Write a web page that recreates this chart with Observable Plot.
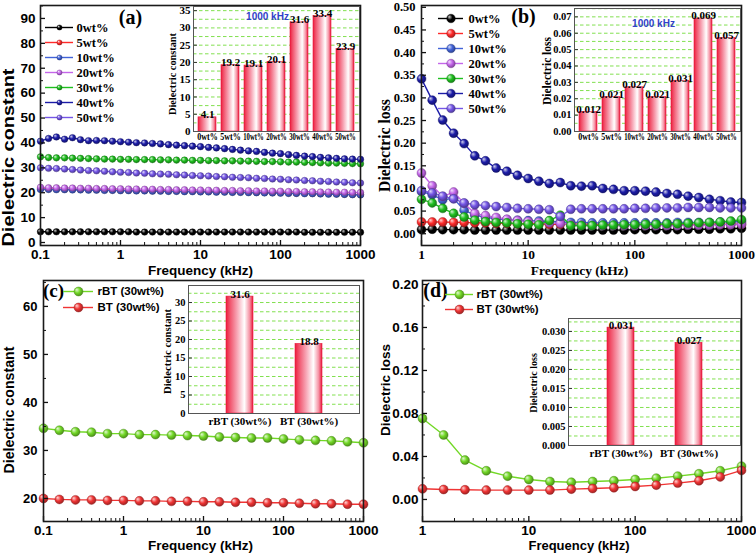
<!DOCTYPE html>
<html>
<head>
<meta charset="utf-8">
<script src="https://cdn.jsdelivr.net/npm/d3@7"></script>
<script src="https://cdn.jsdelivr.net/npm/@observablehq/plot@0.6"></script>
<style>
html,body{margin:0;padding:0;background:#fff;}
#fig{position:relative;width:756px;height:555px;overflow:hidden;background:#fff;}
#fig svg{position:absolute;overflow:visible;}
</style>
</head>
<body>
<div id="fig"></div>
<script>
// ---------------- data ----------------
const seriesNames = ["0wt%","5wt%","10wt%","20wt%","30wt%","40wt%","50wt%"];
const seriesColors = ["#000000","#ff2a2a","#4263d8","#c466ea","#1fbf1f","#1c1ca8","#7456e6"];

const freqA = [0.1,0.126,0.158,0.2,0.251,0.316,0.398,0.501,0.631,0.794,1,1.26,1.58,2,2.51,3.16,3.98,5.01,6.31,7.94,10,12.6,15.8,20,25.1,31.6,39.8,50.1,63.1,79.4,100,126,158,200,251,316,398,501,631,794,1000];
const epsA0  = [4.3,4.3,4.3,4.3,4.3,4.3,4.3,4.3,4.3,4.3,4.3,4.3,4.2,4.2,4.2,4.2,4.2,4.2,4.2,4.2,4.2,4.2,4.2,4.2,4.2,4.2,4.2,4.2,4.2,4.2,4.2,4.2,4.2,4.1,4.1,4.1,4.1,4.1,4.1,4.1,4.1];
const epsA5  = [21.6,21.5,21.5,21.4,21.4,21.3,21.3,21.2,21.2,21.1,21.0,21.0,20.9,20.9,20.8,20.8,20.7,20.7,20.6,20.6,20.5,20.5,20.4,20.4,20.3,20.3,20.2,20.1,20.1,20.0,20.0,19.9,19.8,19.8,19.7,19.6,19.6,19.5,19.4,19.3,19.2];
const epsA10 = [21.3,21.3,21.2,21.2,21.1,21.1,21.0,21.0,20.9,20.9,20.8,20.8,20.7,20.7,20.6,20.6,20.5,20.5,20.4,20.4,20.3,20.3,20.2,20.2,20.1,20.1,20.0,20.0,19.9,19.9,19.8,19.7,19.7,19.6,19.6,19.5,19.4,19.4,19.3,19.2,19.1];
const epsA20 = [22.2,22.0,22.0,21.9,21.9,21.8,21.8,21.7,21.7,21.6,21.6,21.5,21.5,21.4,21.4,21.3,21.3,21.2,21.2,21.1,21.1,21.0,21.0,20.9,20.9,20.8,20.8,20.7,20.7,20.6,20.6,20.5,20.5,20.4,20.4,20.3,20.3,20.2,20.2,20.1,20.1];
const epsA30 = [34.4,34.1,34.0,34.0,33.9,33.8,33.7,33.6,33.5,33.5,33.4,33.4,33.3,33.3,33.3,33.2,33.2,33.1,33.1,33.0,33.0,32.9,32.9,32.8,32.8,32.7,32.7,32.6,32.5,32.5,32.4,32.3,32.3,32.2,32.1,32.0,31.9,31.9,31.8,31.7,31.6];
const epsA40 = [40.7,41.8,42.4,41.5,42.1,41.3,40.9,41.0,40.9,40.7,40.5,40.3,40.1,40.0,39.8,39.6,39.3,39.1,38.9,38.7,38.5,38.2,38.0,37.7,37.4,37.1,36.8,36.6,36.2,35.9,35.7,35.3,35.0,34.7,34.5,34.2,34.0,33.8,33.6,33.5,33.4];
const epsA50 = [30.0,29.8,29.7,29.5,29.3,29.1,28.9,28.8,28.6,28.4,28.2,28.1,27.9,27.8,27.6,27.5,27.4,27.2,27.1,26.9,26.8,26.7,26.5,26.4,26.2,26.1,26.0,25.8,25.7,25.5,25.4,25.2,25.1,24.9,24.8,24.6,24.5,24.3,24.2,24.0,23.9];

const freqB = [1,1.26,1.58,2,2.51,3.16,3.98,5.01,6.31,7.94,10,12.6,15.8,20,25.1,31.6,39.8,50.1,63.1,79.4,100,126,158,200,251,316,398,501,631,794,1000];
const lossB0  = [0.009,0.010,0.009,0.009,0.009,0.008,0.008,0.008,0.008,0.008,0.008,0.008,0.008,0.008,0.008,0.008,0.008,0.008,0.008,0.008,0.009,0.009,0.009,0.009,0.009,0.010,0.010,0.010,0.011,0.011,0.012];
const lossB5  = [0.026,0.026,0.026,0.025,0.025,0.024,0.024,0.023,0.023,0.022,0.022,0.022,0.021,0.021,0.021,0.021,0.021,0.021,0.020,0.020,0.020,0.020,0.020,0.020,0.020,0.020,0.020,0.021,0.021,0.021,0.021];
const lossB10 = [0.093,0.086,0.075,0.078,0.052,0.041,0.036,0.033,0.031,0.030,0.029,0.028,0.027,0.026,0.025,0.025,0.024,0.024,0.024,0.024,0.024,0.024,0.024,0.024,0.025,0.025,0.025,0.025,0.026,0.026,0.027];
const lossB20 = [0.134,0.106,0.082,0.092,0.067,0.045,0.040,0.036,0.032,0.029,0.027,0.025,0.024,0.023,0.020,0.019,0.018,0.018,0.018,0.018,0.018,0.018,0.018,0.018,0.018,0.019,0.019,0.019,0.020,0.020,0.021];
const lossB30 = [0.076,0.068,0.056,0.045,0.037,0.030,0.027,0.025,0.024,0.022,0.021,0.020,0.029,0.041,0.018,0.018,0.018,0.019,0.019,0.020,0.020,0.021,0.021,0.022,0.022,0.023,0.024,0.025,0.026,0.028,0.031];
const lossB40 = [0.342,0.295,0.251,0.222,0.199,0.172,0.161,0.145,0.138,0.129,0.122,0.116,0.111,0.113,0.106,0.105,0.106,0.100,0.098,0.095,0.095,0.094,0.092,0.089,0.087,0.083,0.080,0.076,0.073,0.070,0.069];
const lossB50 = [0.095,0.090,0.083,0.077,0.068,0.064,0.062,0.060,0.058,0.056,0.055,0.054,0.053,0.038,0.054,0.055,0.055,0.055,0.055,0.055,0.056,0.056,0.057,0.057,0.057,0.058,0.058,0.058,0.057,0.057,0.057];

const pairNames = ["rBT (30wt%)","BT (30wt%)"];
const pairColors = ["#72d826","#f03434"];
const freqC = [0.1,0.158,0.251,0.398,0.631,1,1.58,2.51,3.98,6.31,10,15.8,25.1,39.8,63.1,100,158,251,398,631,1000];
const epsC_rBT = [34.6,34.2,33.9,33.8,33.5,33.5,33.3,33.3,33.2,33.1,33.0,32.8,32.7,32.6,32.6,32.4,32.2,32.1,32.0,31.8,31.6];
const epsC_BT  = [20.0,19.8,19.7,19.7,19.6,19.6,19.5,19.5,19.4,19.4,19.3,19.3,19.2,19.2,19.1,19.1,19.0,18.9,18.9,18.8,18.8];

const freqD = [1,1.58,2.51,3.98,6.31,10,15.8,25.1,39.8,63.1,100,158,251,398,631,1000];
const lossD_rBT = [0.0753,0.060,0.0366,0.0267,0.0217,0.0186,0.0167,0.016,0.0167,0.0174,0.0186,0.0198,0.0217,0.0239,0.0267,0.031];
const lossD_BT  = [0.0099,0.0093,0.009,0.0087,0.0087,0.0087,0.0087,0.0096,0.0102,0.0109,0.0121,0.0133,0.0152,0.0174,0.021,0.027];

// inset bar values at 1000 kHz
const insetA = [4.1,19.2,19.1,20.1,31.6,33.4,23.9];
const insetB = [0.012,0.021,0.027,0.021,0.031,0.069,0.057];
const insetC = [31.6,18.8];
const insetD = [0.031,0.027];

// tick labels
const xTicksLow = [0.1,1,10,100,1000];
const xTicksHigh = [1,10,100,1000];
const yTicksA = [0,10,20,30,40,50,60,70,80,90];
const yTicksB = [0,0.05,0.10,0.15,0.20,0.25,0.30,0.35,0.40,0.45,0.50];
const yTicksC = [20,30,40,50,60];
const yTicksD = [0,0.04,0.08,0.12,0.16,0.20];
const yTicksIA = [0,5,10,15,20,25,30,35];
const yTicksIB = [0,0.01,0.02,0.03,0.04,0.05,0.06,0.07];
const yTicksIC = [0,5,10,15,20,25,30];
const yTicksID = [0,0.005,0.010,0.015,0.020,0.025,0.030];

// ---------------- helpers ----------------
const SANS = "'Liberation Sans', Arial, Helvetica, sans-serif";
const SERIF = "'Liberation Serif', 'Times New Roman', Times, serif";
const fig = document.getElementById("fig");

const defsSvg = d3.create("svg").attr("width", 1).attr("height", 1).style("left", "0px").style("top", "0px");
const defs = defsSvg.append("defs");
fig.appendChild(defsSvg.node());
const gradOf = {}, darkOf = {};
let gid = 0;
function ball(color) {
  if (gradOf[color]) return gradOf[color];
  const id = "ball" + (gid++);
  const g = defs.append("radialGradient").attr("id", id)
    .attr("cx", "0.42").attr("cy", "0.42").attr("r", "0.62").attr("fx", "0.3").attr("fy", "0.3");
  g.append("stop").attr("offset", "0").attr("stop-color", d3.interpolateRgb(color, "#ffffff")(0.8));
  g.append("stop").attr("offset", "0.5").attr("stop-color", color);
  g.append("stop").attr("offset", "1").attr("stop-color", d3.color(color).darker(1.3).formatHex());
  gradOf[color] = id;
  darkOf[color] = d3.color(color).darker(1.5).formatHex();
  return id;
}
{
  const lg = defs.append("linearGradient").attr("id", "barGrad")
    .attr("x1", "0").attr("x2", "1").attr("y1", "0").attr("y2", "0");
  [["0", "#ec1c3c"], ["0.12", "#f04a64"], ["0.4", "#f7a2b2"], ["0.68", "#ffffff"], ["0.88", "#f590a2"], ["1", "#e8163a"]]
    .forEach(([o, c]) => lg.append("stop").attr("offset", o).attr("stop-color", c));
}

function place(svg, left, top) {
  svg.style.left = left + "px";
  svg.style.top = top + "px";
  fig.appendChild(svg);
  return svg;
}

function mainPanel(c) {
  const fw = c.width - c.ml - c.mr, fh = c.height - c.mt - c.mb;
  const xMinor = d3.scaleLog().domain(c.xDomain).ticks().filter(t => !c.xTicks.includes(t));
  const yMinor = c.yMinor.filter(t => t > c.yDomain[0] && t < c.yDomain[1]);
  const marks = [];
  c.series.forEach(s => {
    const rows = c.freqs.map((f, i) => ({f, v: s.values[i]}));
    const id = ball(s.color);
    marks.push(Plot.line(rows, {x: "f", y: "v", stroke: s.color, strokeWidth: c.lw}));
    marks.push(Plot.dot(rows, {x: "f", y: "v", r: c.r, fill: `url(#${id})`, stroke: darkOf[s.color], strokeWidth: 0.4}));
  });
  marks.push(
    Plot.tickX(c.xTicks, {x: d => d, insetTop: fh - 5, stroke: "#111", strokeWidth: 1.3}),
    Plot.tickX(xMinor, {x: d => d, insetTop: fh - 3, stroke: "#111", strokeWidth: 1}),
    Plot.tickY(c.yTicks, {y: d => d, insetRight: fw - 5, stroke: "#111", strokeWidth: 1.3}),
    Plot.tickY(yMinor, {y: d => d, insetRight: fw - 3, stroke: "#111", strokeWidth: 1}),
    Plot.axisX({ticks: c.xTicks, tickSize: 0, tickPadding: c.xPad, tickFormat: d => String(d),
      fontFamily: c.tickFont, fontSize: c.xTickSize, fontWeight: "bold", label: null}),
    Plot.axisY({ticks: c.yTicks, tickSize: 0, tickPadding: c.yPad, tickFormat: c.yFmt,
      fontFamily: c.tickFont, fontSize: c.yTickSize, fontWeight: "bold", label: null}),
    Plot.frame({stroke: "#1a1a1a", strokeWidth: 1.6}),
    Plot.text([c.xlab], {frameAnchor: "bottom", dx: c.xlabDx, dy: c.xlabDy, text: d => d, textAnchor: "middle", lineAnchor: "middle",
      fontFamily: c.labFont, fontSize: c.xlabSize, fontWeight: "bold"}),
    Plot.text([c.ylab], {frameAnchor: "left", dx: c.ylabDx, dy: c.ylabDy, rotate: -90, text: d => d, textAnchor: "middle", lineAnchor: "middle",
      fontFamily: c.ylabFont, fontSize: c.ylabSize, fontWeight: "bold"}),
    Plot.text([c.tag], {frameAnchor: "top-left", dx: c.tagDx, dy: c.tagDy, text: d => d, textAnchor: "middle", lineAnchor: "middle",
      fontFamily: SERIF, fontSize: c.tagSize, fontWeight: "bold"})
  );
  const svg = Plot.plot({
    width: c.width, height: c.height,
    marginLeft: c.ml, marginRight: c.mr, marginTop: c.mt, marginBottom: c.mb,
    x: {type: "log", domain: c.xDomain},
    y: {domain: c.yDomain},
    style: {background: "transparent", color: "#000"},
    marks
  });
  if (c.ylabLen) {
    d3.select(svg).selectAll("text").filter(function () { return this.textContent === c.ylab; })
      .attr("textLength", c.ylabLen).attr("lengthAdjust", "spacingAndGlyphs");
  }
  return place(svg, c.left, c.top);
}

function insetPanel(c) {
  const fw = c.width - c.ml - c.mr;
  const rows = c.cats.map((k, i) => ({k, v: c.vals[i]}));
  const grid = d3.range(c.gridStep, c.yMax, c.gridStep);
  const marks = [
    Plot.frame({fill: "#fff", stroke: null}),
    Plot.ruleY(grid, {y: d => d, stroke: "#74dc3c", strokeWidth: 0.9, strokeDasharray: "3.5,2.5"}),
    Plot.barY(rows, {x: "k", y: "v", fill: "url(#barGrad)", stroke: "#e8193d", strokeWidth: 0.6}),
    Plot.text(rows, {x: "k", y: "v", text: d => c.valFmt(d.v), lineAnchor: "bottom", dy: 1,
      fontFamily: SERIF, fontWeight: "bold", fontSize: 11}),
    Plot.tickY(c.yTicks, {y: d => d, insetRight: fw - 4, stroke: "#333", strokeWidth: 1}),
    Plot.axisY({ticks: c.yTicks, tickSize: 0, tickPadding: 3, tickFormat: c.yFmt,
      fontFamily: SERIF, fontSize: c.tickSize, fontWeight: "bold", label: null}),
    Plot.axisX({tickSize: 0, tickPadding: c.catPad, fontFamily: SERIF, fontSize: c.catSize, fontWeight: "bold", label: null}),
    Plot.frame({stroke: "#555", strokeWidth: 1}),
    Plot.text([c.ylab], {frameAnchor: "left", dx: c.ylabDx, dy: c.ylabDy, rotate: -90, text: d => d, textAnchor: "middle", lineAnchor: "middle",
      fontFamily: SERIF, fontSize: c.ylabSize, fontWeight: "bold"})
  ];
  if (c.note) marks.push(Plot.text([c.note], {frameAnchor: "top", dx: c.noteDx, dy: c.noteDy, text: d => d,
    textAnchor: "middle", lineAnchor: "middle", fill: "#3141c8", fontFamily: SANS, fontSize: 10, fontWeight: "bold"}));
  const svg = Plot.plot({
    width: c.width, height: c.height,
    marginLeft: c.ml, marginRight: c.mr, marginTop: c.mt, marginBottom: c.mb,
    x: {type: "band", domain: c.cats, paddingInner: c.padIn, paddingOuter: c.padOut},
    y: {domain: [0, c.yMax]},
    style: {background: "transparent", color: "#000"},
    marks
  });
  place(svg, c.left, c.top);
  if (c.fitCats) {
    d3.select(svg).selectAll("g[aria-label='x-axis tick label'] text").each(function () {
      if (this.getComputedTextLength() > c.fitCats) {
        d3.select(this).attr("textLength", c.fitCats).attr("lengthAdjust", "spacingAndGlyphs");
      }
    });
  }
  return svg;
}

function legendPanel(c) {
  c.colors.forEach(ball);
  const colorOf = Object.fromEntries(c.names.map((n, i) => [n, c.colors[i]]));
  const svg = Plot.plot({
    width: c.width, height: c.height, margin: 0,
    x: {domain: [0, 1], range: c.xr, axis: null},
    y: {type: "point", domain: c.names, range: c.yr, padding: 0, axis: null},
    color: {type: "identity"},
    style: {background: "transparent", color: "#000"},
    marks: [
      Plot.ruleY(c.names, {y: d => d, x1: 0, x2: 1, stroke: d => colorOf[d], strokeWidth: 1.4}),
      Plot.dot(c.names, {x: 0.5, y: d => d, r: c.r, fill: d => `url(#${gradOf[colorOf[d]]})`, stroke: d => darkOf[colorOf[d]], strokeWidth: 0.4}),
      Plot.text(c.names, {x: 1, y: d => d, dx: c.dx, text: d => d, textAnchor: "start", lineAnchor: "middle",
        fontFamily: c.font, fontSize: c.size, fontWeight: "bold"})
    ]
  });
  return place(svg, c.left, c.top);
}

// ---------------- panels ----------------
const seriesA = [epsA0, epsA5, epsA10, epsA20, epsA30, epsA40, epsA50].map((v, i) => ({values: v, color: seriesColors[i]}));
const seriesB = [lossB0, lossB5, lossB10, lossB20, lossB30, lossB40, lossB50].map((v, i) => ({values: v, color: seriesColors[i]}));
const seriesC = [epsC_rBT, epsC_BT].map((v, i) => ({values: v, color: pairColors[i]}));
const seriesD = [lossD_rBT, lossD_BT].map((v, i) => ({values: v, color: pairColors[i]}));
const f2 = d3.format(".2f");

mainPanel({left: 0, top: 0, width: 378, height: 278, ml: 40, mr: 18, mt: 5, mb: 33,
  xDomain: [0.1, 1000], yDomain: [-1.2, 95.2], freqs: freqA, series: seriesA, r: 3.3, lw: 1.4,
  xTicks: xTicksLow, yTicks: yTicksA, yMinor: d3.range(5, 100, 10), yFmt: d => String(d),
  tickFont: SANS, xTickSize: 13.5, yTickSize: 13.5, xPad: 4, yPad: 5,
  xlab: "Frequency (kHz)", xlabDx: 0, xlabDy: 25, labFont: SANS, xlabSize: 13.5,
  ylab: "Dielectric constant", ylabDx: -32, ylabDy: 32, ylabFont: SANS, ylabSize: 17, ylabLen: 178,
  tag: "(a)", tagDx: 90, tagDy: 12, tagSize: 20});

mainPanel({left: 378, top: 0, width: 378, height: 278, ml: 43, mr: 15, mt: 5, mb: 33,
  xDomain: [1, 1000], yDomain: [-0.026, 0.504], freqs: freqB, series: seriesB, r: 4.5, lw: 1.4,
  xTicks: xTicksHigh, yTicks: yTicksB, yMinor: d3.range(0.025, 0.5, 0.05), yFmt: f2,
  tickFont: SERIF, xTickSize: 13.5, yTickSize: 12.5, xPad: 4, yPad: 6,
  xlab: "Frequency (kHz)", xlabDx: -2, xlabDy: 25, labFont: SERIF, xlabSize: 13.5,
  ylab: "Dielectric loss", ylabDx: -37, ylabDy: 20, ylabFont: SERIF, ylabSize: 15.7,
  tag: "(b)", tagDx: 102, tagDy: 11, tagSize: 20});

mainPanel({left: 0, top: 275, width: 378, height: 280, ml: 43, mr: 15, mt: 5, mb: 34,
  xDomain: [0.1, 1000], yDomain: [15.2, 65.4], freqs: freqC, series: seriesC, r: 4.5, lw: 1.4,
  xTicks: xTicksLow, yTicks: yTicksC, yMinor: [15, 25, 35, 45, 55, 65], yFmt: d => String(d),
  tickFont: SANS, xTickSize: 13.5, yTickSize: 13, xPad: 4, yPad: 6,
  xlab: "Frequency (kHz)", xlabDx: -3, xlabDy: 24, labFont: SANS, xlabSize: 13.5,
  ylab: "Dielectric constant", ylabDx: -34, ylabDy: 9, ylabFont: SANS, ylabSize: 14.2,
  tag: "(c)", tagDx: 10, tagDy: 10, tagSize: 19});

mainPanel({left: 378, top: 275, width: 378, height: 280, ml: 44, mr: 15, mt: 5, mb: 34,
  xDomain: [1, 1000], yDomain: [-0.0205, 0.2037], freqs: freqD, series: seriesD, r: 4.5, lw: 1.4,
  xTicks: xTicksHigh, yTicks: yTicksD, yMinor: [0.02, 0.06, 0.10, 0.14, 0.18], yFmt: f2,
  tickFont: SANS, xTickSize: 13.5, yTickSize: 13.5, xPad: 4, yPad: 4,
  xlab: "Frequency (kHz)", xlabDx: -3, xlabDy: 24, labFont: SANS, xlabSize: 13,
  ylab: "Dielectric loss", ylabDx: -36.5, ylabDy: -11, ylabFont: SANS, ylabSize: 13.6,
  tag: "(d)", tagDx: 13, tagDy: 10, tagSize: 20});

insetPanel({left: 150, top: 0, width: 215, height: 150, ml: 43, mr: 6, mt: 6, mb: 19,
  cats: seriesNames, vals: insetA, yMax: 36.2, yTicks: yTicksIA, yFmt: d => String(d), gridStep: 2.5,
  padIn: 0.22, padOut: 0.11, valFmt: d3.format(".1f"), tickSize: 11, catSize: 9.5, catPad: 1.5, fitCats: 20.5,
  ylab: "Dielectric constant", ylabDx: -21, ylabDy: 5, ylabSize: 10.3,
  note: "1000 kHz", noteDx: -9, noteDy: 10});

insetPanel({left: 530, top: 0, width: 216, height: 150, ml: 44, mr: 6, mt: 8, mb: 19,
  cats: seriesNames, vals: insetB, yMax: 0.0751, yTicks: yTicksIB, yFmt: f2, gridStep: 0.005,
  padIn: 0.22, padOut: 0.11, valFmt: d3.format(".3f"), tickSize: 10.5, catSize: 9.5, catPad: 1.5, fitCats: 20.5,
  ylab: "Dielectric loss", ylabDx: -27, ylabDy: 1, ylabSize: 11.5,
  note: "1000 kHz", noteDx: -4, noteDy: 15});

insetPanel({left: 150, top: 275, width: 215, height: 160, ml: 38, mr: 6, mt: 10, mb: 22,
  cats: pairNames, vals: insetC, yMax: 34.6, yTicks: yTicksIC, yFmt: d => String(d), gridStep: 2.5,
  padIn: 0.612, padOut: 0.535, valFmt: d3.format(".1f"), tickSize: 10.5, catSize: 11, catPad: 3.5,
  ylab: "Dielectric constant", ylabDx: -21, ylabDy: 2, ylabSize: 10.7});

insetPanel({left: 525, top: 310, width: 221, height: 155, ml: 43, mr: 6, mt: 8, mb: 20,
  cats: pairNames, vals: insetD, yMax: 0.0334, yTicks: yTicksID, yFmt: d3.format(".3f"), gridStep: 0.0025,
  padIn: 0.609, padOut: 0.551, valFmt: d3.format(".3f"), tickSize: 10.5, catSize: 11, catPad: 3.5,
  ylab: "Dielectric loss", ylabDx: -35, ylabDy: 1, ylabSize: 10.1});

legendPanel({left: 40, top: 14, width: 120, height: 115, names: seriesNames, colors: seriesColors,
  xr: [5, 33], yr: [10, 105], dx: 3, r: 2.6, font: SERIF, size: 12.5});
legendPanel({left: 430, top: 5, width: 120, height: 115, names: seriesNames, colors: seriesColors,
  xr: [8, 33], yr: [10, 105], dx: 5, r: 4.3, font: SERIF, size: 12.5});
legendPanel({left: 55, top: 280, width: 140, height: 36, names: pairNames, colors: pairColors,
  xr: [8, 38], yr: [11, 27], dx: 4, r: 4.5, font: SANS, size: 11.5});
legendPanel({left: 440, top: 283, width: 140, height: 36, names: pairNames, colors: pairColors,
  xr: [5, 33], yr: [11, 26], dx: 3, r: 4.5, font: SANS, size: 11.5});
</script>
</body>
</html>
